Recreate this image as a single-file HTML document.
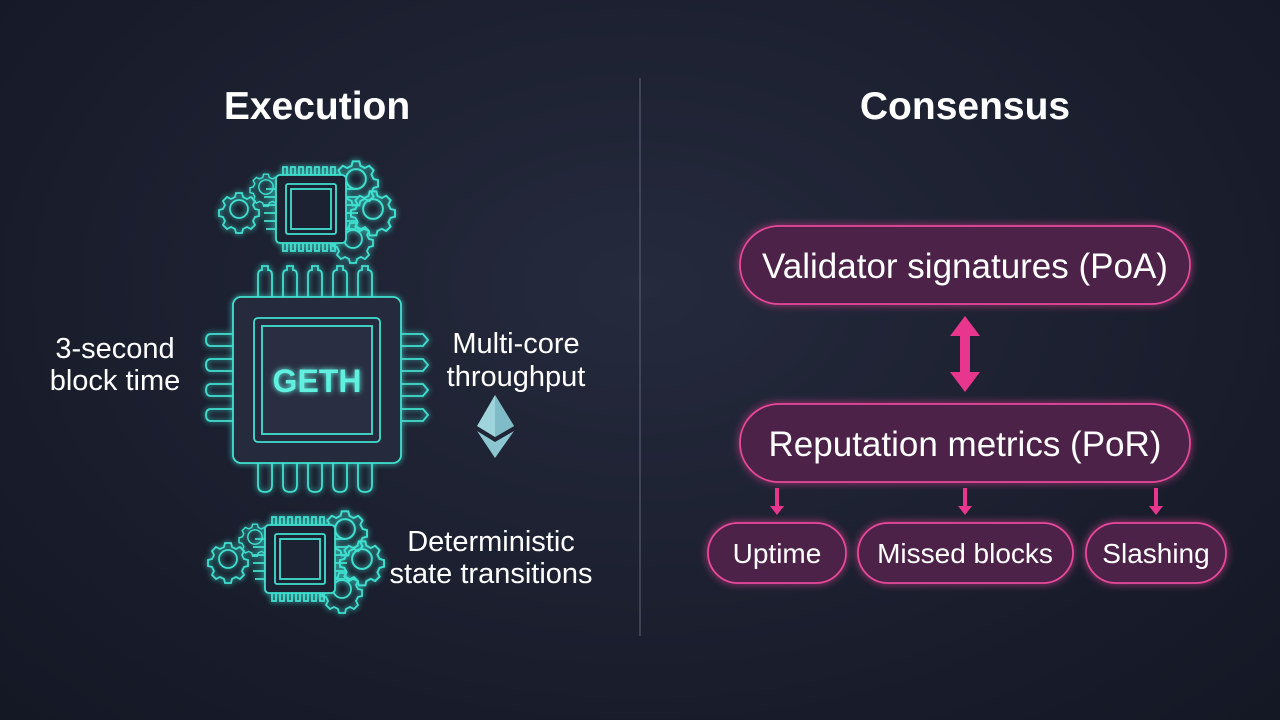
<!DOCTYPE html>
<html><head><meta charset="utf-8"><style>
body{margin:0;width:1280px;height:720px;overflow:hidden;background:radial-gradient(ellipse at 50% 40%,#252a3d 0%,#1a1e2d 60%,#141724 100%);}
svg{display:block}
text{font-family:"Liberation Sans","DejaVu Sans",sans-serif;fill:#fff}
</style></head><body>
<svg width="1280" height="720" viewBox="0 0 1280 720">
<defs>
<filter id="gc" x="-30%" y="-30%" width="160%" height="160%"><feGaussianBlur stdDeviation="3" result="b"/><feMerge><feMergeNode in="b"/><feMergeNode in="SourceGraphic"/></feMerge></filter>
<filter id="gp" x="-20%" y="-40%" width="140%" height="180%"><feGaussianBlur stdDeviation="4" result="b"/><feMerge><feMergeNode in="b"/><feMergeNode in="SourceGraphic"/></feMerge></filter>
<g id="gear"><circle r="9" fill="none"/><path d="M-3,-16h6l1,4 4,2 4-2 4,4-2,4 2,4 4,1v6l-4,1-2,4 2,4-4,4-4-2-4,2-1,4h-6l-1-4-4-2-4,2-4-4 2-4-2-4-4-1v-6l4-1 2-4-2-4 4-4 4,2 4-2z" fill="none"/></g>
<g id="small">
 <g transform="translate(-72,0)"><use href="#gear"/></g>
 <g transform="translate(-45,-22) scale(0.8)"><use href="#gear"/></g>
 <g transform="translate(45,-30) scale(1.1)"><use href="#gear"/></g>
 <g transform="translate(62,0) scale(1.1)"><use href="#gear"/></g>
 <g transform="translate(42,30)"><use href="#gear"/></g>
 <path d="M-28,-34v-8h4v8M-20,-34v-8h4v8M-12,-34v-8h4v8M-4,-34v-8h4v8M4,-34v-8h4v8M12,-34v-8h4v8M20,-34v-8h4v8M-28,34v8h4v-8M-20,34v8h4v-8M-12,34v8h4v-8M-4,34v8h4v-8M4,34v8h4v-8M12,34v8h4v-8M20,34v8h4v-8" fill="none"/>
 <path d="M-35,-20h-10M-35,-12h-12M-35,-4h-12M-35,4h-12M-35,12h-12M-35,20h-10M35,-20h10M35,-12h12M35,-4h12M35,4h12M35,12h12M35,20h10" fill="none"/>
 <rect x="-35" y="-34" width="70" height="68" rx="4" fill="#1e2333"/>
 <rect x="-25" y="-25" width="50" height="50" rx="2" fill="none"/>
 <rect x="-20" y="-20" width="40" height="40" fill="none"/>
</g>
</defs>
<line x1="640" y1="78" x2="640" y2="636" stroke="#4a4f63" stroke-width="1.5"/>
<text x="317" y="119" font-size="39" text-anchor="middle" font-weight="bold">Execution</text>
<text x="965" y="119" font-size="39" text-anchor="middle" font-weight="bold">Consensus</text>

<g stroke="#3fe0d0" stroke-width="1.8" filter="url(#gc)">
 <use href="#small" transform="translate(311,209)"/>
 <use href="#small" transform="translate(300,559)"/>
 <path d="M258,297v-22q0-5 4-5v-4h6v4q4,0 4,5v22M283,297v-22q0-5 4-5v-4h6v4q4,0 4,5v22M308,297v-22q0-5 4-5v-4h6v4q4,0 4,5v22M333,297v-22q0-5 4-5v-4h6v4q4,0 4,5v22M358,297v-22q0-5 4-5v-4h6v4q4,0 4,5v22" fill="none"/>
 <path d="M258,463v22q0,7 7,7q7,0 7-7v-22M283,463v22q0,7 7,7q7,0 7-7v-22M308,463v22q0,7 7,7q7,0 7-7v-22M333,463v22q0,7 7,7q7,0 7-7v-22M358,463v22q0,7 7,7q7,0 7-7v-22" fill="none"/>
 <path d="M233,334h-22q-5,0-5,6q0,6 5,6h22M233,359h-22q-5,0-5,6q0,6 5,6h22M233,384h-22q-5,0-5,6q0,6 5,6h22M233,409h-22q-5,0-5,6q0,6 5,6h22" fill="none"/>
 <path d="M401,334h22l5,6-5,6h-22M401,359h22l5,6-5,6h-22M401,384h22l5,6-5,6h-22M401,409h22l5,6-5,6h-22" fill="none"/>
 <rect x="233" y="297" width="168" height="166" rx="8" fill="#262b3c"/>
 <rect x="254" y="318" width="126" height="124" rx="4" fill="none"/>
 <rect x="262" y="326" width="110" height="108" fill="#2a2f42"/>
</g>
<text x="317" y="392" font-size="32" font-weight="bold" text-anchor="middle" style="fill:#5ff0e0" filter="url(#gc)">GETH</text>

<g font-size="29" text-anchor="middle">
<text x="115" y="358">3-second</text><text x="115" y="390">block time</text>
<text x="516" y="353">Multi-core</text><text x="516" y="386">throughput</text>
<text x="491" y="551">Deterministic</text><text x="491" y="583">state transitions</text>
</g>
<g>
<polygon points="495,395 477,426 495,437 514,426" fill="#9fd4dc"/>
<polygon points="495,395 495,437 514,426" fill="#7fbcc8"/>
<polygon points="477,431 495,442 514,431 495,458" fill="#8cc6d0"/>
</g>

<g stroke="#e8489a" stroke-width="1.8" fill="#4d2048" filter="url(#gp)">
 <rect x="740" y="226" width="450" height="78" rx="39"/>
 <rect x="740" y="404" width="450" height="78" rx="39"/>
 <rect x="708" y="523" width="138" height="60" rx="30"/>
 <rect x="858" y="523" width="215" height="60" rx="30"/>
 <rect x="1086" y="523" width="140" height="60" rx="30"/>
</g>
<g fill="#e8368f">
 <polygon points="965,316 980,336 970,336 970,372 980,372 965,392 950,372 960,372 960,336 950,336"/>
 <polygon points="775,488 779,488 779,506 784,506 777,515 770,506 775,506"/>
 <polygon points="963,488 967,488 967,506 972,506 965,515 958,506 963,506"/>
 <polygon points="1154,488 1158,488 1158,506 1163,506 1156,515 1149,506 1154,506"/>
</g>
<g text-anchor="middle">
<text x="965" y="278" font-size="35">Validator signatures (PoA)</text>
<text x="965" y="456" font-size="35">Reputation metrics (PoR)</text>
<text x="777" y="563" font-size="28">Uptime</text>
<text x="965" y="563" font-size="28">Missed blocks</text>
<text x="1156" y="563" font-size="28">Slashing</text>
</g>
</svg>
</body></html>
